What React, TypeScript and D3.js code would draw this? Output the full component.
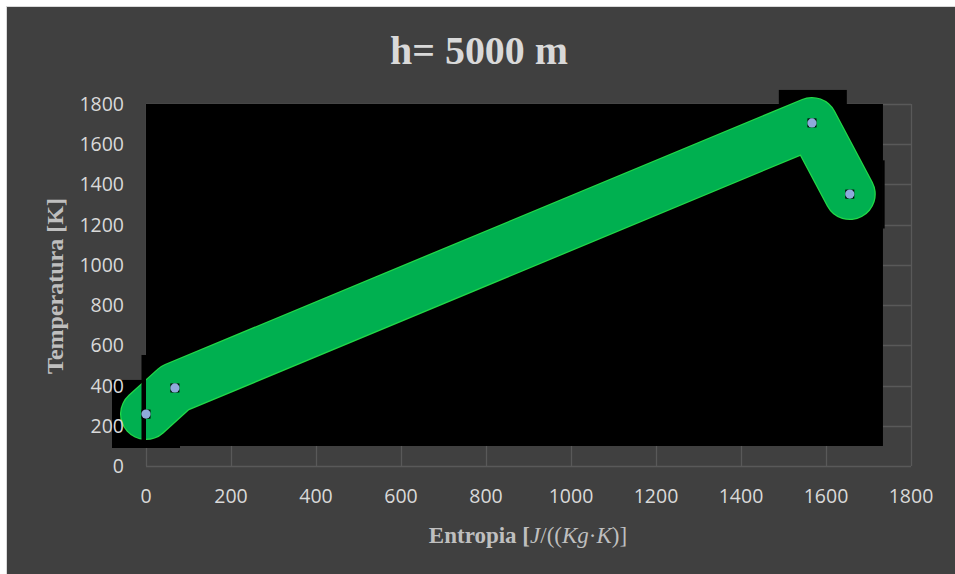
import React from "react";
import * as d3 from "d3";

// Ciclo termodinámico (h = 5000 m): puntos del diagrama T–s
const entropy = [0, 68, 1567, 1656];
const temperature = [258, 388, 1706, 1352];

const xTicks = [0, 200, 400, 600, 800, 1000, 1200, 1400, 1600, 1800];
const yTicks = [0, 200, 400, 600, 800, 1000, 1200, 1400, 1600, 1800];

// Fondo negro de la imagen del trazo, en unidades de datos [x0, x1, y0, y1]
const backdropRects: [number, number, number, number][] = [
  [0, 1734, 99.5, 1800],
  [-80, 0, 89.5, 428],
  [0, 80, 89.5, 99.5],
  [1489, 1649, 1800, 1870],
  [1734, 1738, 1181, 1520],
];
// Franja negra superpuesta al trazo
const overlayRects: [number, number, number, number][] = [[-10.6, 0, 120, 552]];

const W = 955;
const H = 574;
const plot = { left: 146, right: 911, top: 104, bottom: 466 };

export default function App() {
  const x = d3.scaleLinear().domain([0, 1800]).range([plot.left, plot.right]);
  const y = d3.scaleLinear().domain([0, 1800]).range([plot.bottom, plot.top]);

  const pts = entropy.map((e, i) => [e, temperature[i]] as [number, number]);
  const line = d3
    .line<[number, number]>()
    .x((d) => x(d[0]))
    .y((d) => y(d[1]));
  const path = line(pts) || "";

  const rectEl = (r: [number, number, number, number], i: number, fill: string) => (
    <rect
      key={i}
      x={x(r[0])}
      y={y(r[3])}
      width={x(r[1]) - x(r[0])}
      height={y(r[2]) - y(r[3])}
      fill={fill}
    />
  );

  return (
    <div style={{ position: "absolute", left: 0, top: 0 }}>
      <svg width={W} height={H} style={{ display: "block" }}>
        <rect x={0} y={0} width={W} height={H} fill="#ffffff" />
        <rect x={6.5} y={6.5} width={W} height={H} fill="#404040" stroke="#d9d9d9" strokeWidth={1} />

        {/* Cuadrícula */}
        {yTicks.map((t) => (
          <line key={"gy" + t} x1={plot.left} x2={plot.right} y1={Math.round(y(t)) + 0.5} y2={Math.round(y(t)) + 0.5} stroke="#595959" strokeWidth={1.3} />
        ))}
        {xTicks.map((t) => (
          <line key={"gx" + t} x1={Math.round(x(t)) + 0.5} x2={Math.round(x(t)) + 0.5} y1={plot.top} y2={plot.bottom} stroke="#595959" strokeWidth={1.3} />
        ))}

        {backdropRects.map((r, i) => rectEl(r, i, "#000000"))}

        {/* Trazo del ciclo */}
        <path d={path} fill="none" stroke="#22d848" strokeWidth={52} strokeLinejoin="round" strokeLinecap="round" />
        <path d={path} fill="none" stroke="#00b050" strokeWidth={49.5} strokeLinejoin="round" strokeLinecap="round" />

        {overlayRects.map((r, i) => rectEl(r, i, "#000000"))}

        {pts.map((p, i) => (
          <g key={"m" + i} transform={`translate(${x(p[0])},${y(p[1])})`}>
            <rect x={-4.5} y={-4.5} width={9} height={9} fill="#000000" />
            <circle r={4.6} fill="#8eaadb" />
          </g>
        ))}

        {/* Etiquetas de los ejes */}
        {yTicks.map((t) => (
          <text key={"ty" + t} x={124} y={y(t)} dy="0.36em" textAnchor="end" fontFamily="'Open Sans', sans-serif" fontSize={19.5} fill="#d9d9d9">
            {t}
          </text>
        ))}
        {xTicks.map((t) => (
          <text key={"tx" + t} x={x(t)} y={496} dy="0.36em" textAnchor="middle" fontFamily="'Open Sans', sans-serif" fontSize={19.5} fill="#d9d9d9">
            {t}
          </text>
        ))}

        <text x={479} y={64} textAnchor="middle" fontFamily="'Liberation Serif', serif" fontWeight="bold" fontSize={40} fill="#d9d9d9" textLength={178} lengthAdjust="spacingAndGlyphs">
          h= 5000 m
        </text>

        <text transform="translate(63,286) rotate(-90)" textAnchor="middle" fontFamily="'Liberation Serif', serif" fontWeight="bold" fontSize={24} fill="#bfbfbf">
          Temperatura [K]
        </text>

        <text x={528} y={543} textAnchor="middle" fontFamily="'Liberation Serif', serif" fontSize={23} fill="#bfbfbf">
          <tspan fontWeight="bold">Entropia [</tspan>
          <tspan fontStyle="italic">J</tspan>
          <tspan>/((</tspan>
          <tspan fontStyle="italic">Kg</tspan>
          <tspan>·</tspan>
          <tspan fontStyle="italic">K</tspan>
          <tspan>)]</tspan>
        </text>
      </svg>
    </div>
  );
}
